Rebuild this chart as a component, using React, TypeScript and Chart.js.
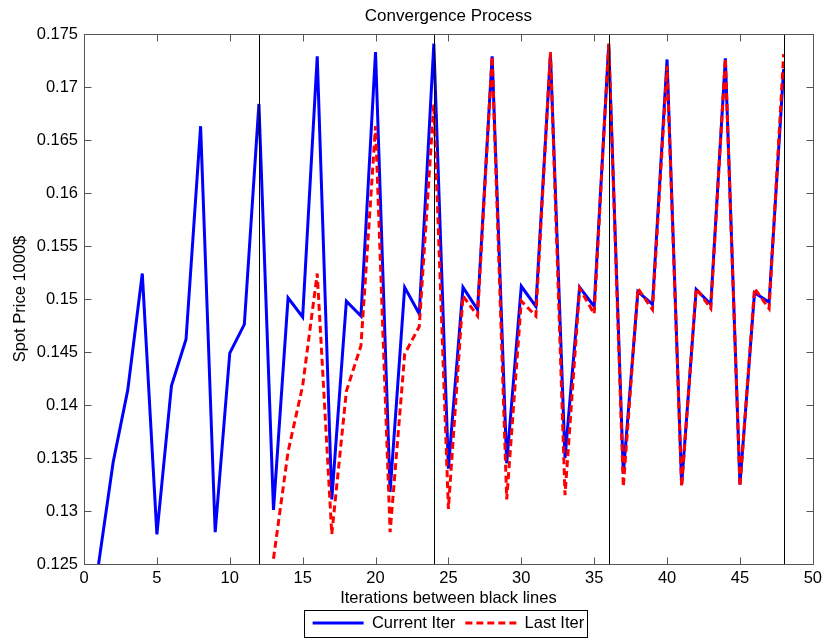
import React, { useEffect, useRef } from 'react';
import { Chart, registerables } from 'chart.js';

Chart.register(...registerables);

// ---- data ----
const iterations = [
  1, 2, 3, 4, 5, 6, 7, 8, 9, 10, 11, 12,
  13, 14, 15, 16, 17, 18, 19, 20, 21, 22, 23, 24,
  25, 26, 27, 28, 29, 30, 31, 32, 33, 34, 35, 36,
  37, 38, 39, 40, 41, 42, 43, 44, 45, 46, 47, 48,
];

const currentIter = [
  0.1250, 0.1346, 0.1414, 0.1524, 0.1278, 0.1418, 0.1462, 0.1663, 0.1280, 0.1449, 0.1476, 0.1684,
  0.1301, 0.1501, 0.1483, 0.1729, 0.1311, 0.1498, 0.1484, 0.1733, 0.1318, 0.1511, 0.1486, 0.1741,
  0.1340, 0.1511, 0.1490, 0.1729, 0.1345, 0.1512, 0.1493, 0.1731, 0.1350, 0.1511, 0.1493, 0.1740,
  0.1335, 0.1507, 0.1495, 0.1726, 0.1325, 0.1509, 0.1495, 0.1727, 0.1325, 0.1506, 0.1497, 0.1717,
];

const lastIterX = [
  13, 14, 15, 16, 17, 18, 19, 20, 21, 22, 23, 24,
  25, 26, 27, 28, 29, 30, 31, 32, 33, 34, 35, 36,
  37, 38, 39, 40, 41, 42, 43, 44, 45, 46, 47, 48,
];

const lastIter = [
  0.1255, 0.1356, 0.1418, 0.1524, 0.1278, 0.1413, 0.1456, 0.1663, 0.1280, 0.1448, 0.1474, 0.1684,
  0.1302, 0.1503, 0.1484, 0.1729, 0.1311, 0.1498, 0.1484, 0.1733, 0.1315, 0.1510, 0.1486, 0.1741,
  0.1323, 0.1510, 0.1490, 0.1720, 0.1323, 0.1510, 0.1491, 0.1727, 0.1323, 0.1510, 0.1491, 0.1731,
];

const boundaryLines = [12, 24, 36, 48];

const xTickValues = [0, 5, 10, 15, 20, 25, 30, 35, 40, 45, 50];
const xTickLabels = ['0', '5', '10', '15', '20', '25', '30', '35', '40', '45', '50'];
const yTickValues = [0.125, 0.13, 0.135, 0.14, 0.145, 0.15, 0.155, 0.16, 0.165, 0.17, 0.175];
const yTickLabels = ['0.125', '0.13', '0.135', '0.14', '0.145', '0.15', '0.155', '0.16', '0.165', '0.17', '0.175'];

const FONT = "'Liberation Sans', Arial, Helvetica, sans-serif";

const framePlugin = {
  id: 'matlabFrame',
  afterDatasetsDraw(chart: any) {
    const { ctx, chartArea, scales } = chart;
    const { left, right, top, bottom } = chartArea;
    const xs = scales.x;
    const ys = scales.y;
    ctx.save();
    ctx.setLineDash([]);
    // black separator lines
    ctx.strokeStyle = '#000';
    ctx.lineWidth = 1;
    boundaryLines.forEach((v) => {
      const px = Math.round(xs.getPixelForValue(v)) + 0.5;
      ctx.beginPath();
      ctx.moveTo(px, top);
      ctx.lineTo(px, bottom);
      ctx.stroke();
    });
    // frame box
    ctx.strokeStyle = '#555';
    const L = Math.round(left) + 0.5;
    const R = Math.round(right) + 0.5;
    const T = Math.round(top) + 0.5;
    const B = Math.round(bottom) + 0.5;
    ctx.strokeRect(L, T, R - L, B - T);
    // inward ticks
    const tl = 7;
    ctx.beginPath();
    xTickValues.forEach((v) => {
      const px = Math.round(xs.getPixelForValue(v)) + 0.5;
      ctx.moveTo(px, B);
      ctx.lineTo(px, B - tl);
      ctx.moveTo(px, T);
      ctx.lineTo(px, T + tl);
    });
    yTickValues.forEach((v) => {
      const py = Math.round(ys.getPixelForValue(v)) + 0.5;
      ctx.moveTo(L, py);
      ctx.lineTo(L + tl, py);
      ctx.moveTo(R, py);
      ctx.lineTo(R - tl, py);
    });
    ctx.stroke();
    ctx.restore();
  },
  afterDraw(chart: any) {
    const legend = chart.legend;
    if (!legend || !legend.legendHitBoxes || !legend.legendHitBoxes.length) return;
    const boxes = legend.legendHitBoxes;
    const first = boxes[0];
    const last = boxes[boxes.length - 1];
    const cy = first.top + first.height / 2;
    const ctx = chart.ctx;
    ctx.save();
    ctx.setLineDash([]);
    ctx.strokeStyle = '#000';
    ctx.lineWidth = 1;
    const l = Math.round(first.left - 9) + 0.5;
    const r = Math.round(last.left + last.width + 3) + 0.5;
    const t = Math.round(cy - 13) + 0.5;
    const b = Math.round(cy + 14) + 0.5;
    ctx.strokeRect(l, t, r - l, b - t);
    ctx.restore();
  },
};

export default function App() {
  const canvasRef = useRef<HTMLCanvasElement | null>(null);

  useEffect(() => {
    document.body.style.margin = '0';
    const canvas = canvasRef.current;
    if (!canvas) return;

    Chart.defaults.font.family = FONT;
    Chart.defaults.color = '#000';

    const chart = new Chart(canvas, {
      type: 'line',
      data: {
        datasets: [
          {
            label: 'Current Iter',
            data: iterations.map((x, i) => ({ x, y: currentIter[i] })),
            borderColor: '#0000ff',
            backgroundColor: '#0000ff',
            borderWidth: 3,
            pointRadius: 0,
            tension: 0,
            fill: false,
            order: 1,
          },
          {
            label: 'Last Iter',
            data: lastIterX.map((x, i) => ({ x, y: lastIter[i] })),
            borderColor: '#ff0000',
            backgroundColor: '#ff0000',
            borderWidth: 3,
            borderDash: [7, 4],
            pointRadius: 0,
            tension: 0,
            fill: false,
            order: 0,
          },
        ],
      },
      options: {
        responsive: false,
        animation: false,
        devicePixelRatio: 1,
        layout: { padding: { left: 0, right: 11, top: 0, bottom: -2.25 } },
        plugins: {
          title: {
            display: true,
            text: 'Convergence Process',
            color: '#000',
            fullSize: false,
            font: { size: 17, weight: 'normal', family: FONT },
            padding: { top: 6, bottom: 7.6 },
          },
          legend: {
            display: true,
            position: 'bottom',
            fullSize: false,
            labels: {
              color: '#000',
              font: { size: 16.5, family: FONT },
              usePointStyle: true,
              pointStyle: 'line',
              pointStyleWidth: 51,
              boxWidth: 51,
              padding: 10,
              sort: (a: any, b: any) => a.datasetIndex - b.datasetIndex,
              generateLabels: (chart: any) => {
                const items = Chart.defaults.plugins.legend.labels.generateLabels(chart);
                return items.map((item: any) => {
                  const ds = chart.data.datasets[item.datasetIndex];
                  return {
                    ...item,
                    pointStyle: 'line',
                    strokeStyle: ds.borderColor,
                    fillStyle: ds.borderColor,
                    lineWidth: 3,
                    lineDash: ds.borderDash || [],
                    lineCap: 'butt',
                  };
                });
              },
            },
          },
          tooltip: { enabled: false },
        },
        scales: {
          x: {
            type: 'linear',
            min: 0,
            max: 50,
            grid: { display: false, drawTicks: false },
            border: { display: false },
            afterBuildTicks: (scale: any) => {
              scale.ticks = xTickValues.map((v) => ({ value: v }));
            },
            afterFit: (scale: any) => {
              scale.height = 40.75;
            },
            ticks: {
              padding: 5,
              maxRotation: 0,
              autoSkip: false,
              color: '#000',
              font: { size: 16.5, family: FONT },
              callback: (_v: any, i: number) => xTickLabels[i],
            },
            title: {
              display: true,
              text: 'Iterations between black lines',
              color: '#000',
              font: { size: 16.5, family: FONT },
              padding: { top: 0, bottom: -4 },
            },
          },
          y: {
            type: 'linear',
            min: 0.125,
            max: 0.175,
            grid: { display: false, drawTicks: false },
            border: { display: false },
            afterBuildTicks: (scale: any) => {
              scale.ticks = yTickValues.map((v) => ({ value: v }));
            },
            afterFit: (scale: any) => {
              scale.width = 84;
            },
            ticks: {
              padding: 6,
              autoSkip: false,
              color: '#000',
              font: { size: 16.5, family: FONT },
              callback: (_v: any, i: number) => yTickLabels[i],
            },
            title: {
              display: true,
              text: 'Spot Price 1000$',
              color: '#000',
              font: { size: 16.5, family: FONT },
              padding: { top: 11, bottom: 0 },
            },
          },
        },
      },
      plugins: [framePlugin],
    } as any);

    return () => {
      chart.destroy();
    };
  }, []);

  return (
    <div style={{ width: 827, height: 639 }}>
      <canvas ref={canvasRef} width={827} height={639} style={{ display: 'block', width: 827, height: 639 }} />
    </div>
  );
}
